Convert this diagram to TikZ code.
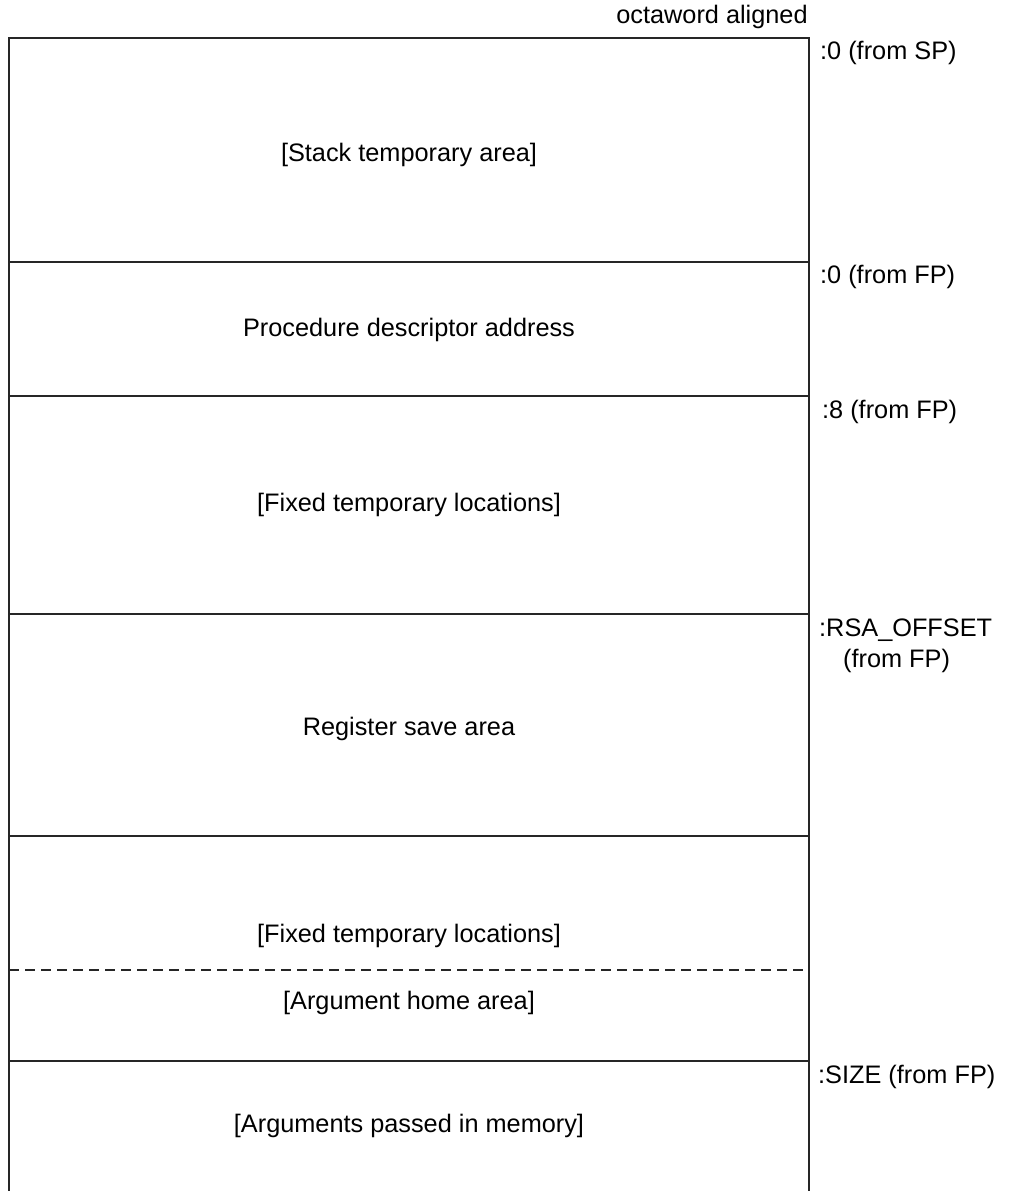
\documentclass[tikz,border=0pt]{standalone}
\usepackage{fontspec}
\setmainfont{Liberation Sans}
\begin{document}
\begin{tikzpicture}[x=1pt,y=-1pt,
  frame/.style={line width=2.8pt,draw=black!85},
  sep/.style={line width=2.5pt,draw=black!85},
  dsep/.style={line width=2.3pt,draw=black!85,dash pattern=on 10pt off 6pt},
  lbl/.style={inner sep=0pt,font=\fontsize{25.3}{30}\selectfont},
  side/.style={lbl,anchor=west}]
\useasboundingbox (0,0) rectangle (1011,1191);
% frame
\draw[frame] (9,1191) -- (9,38) -- (809,38) -- (809,1191);
% separators
\draw[sep] (9,262) -- (809,262);
\draw[sep] (9,396) -- (809,396);
\draw[sep] (9,614) -- (809,614);
\draw[sep] (9,836) -- (809,836);
\draw[dsep] (9,970) -- (809,970);
\draw[sep] (9,1061) -- (809,1061);
% box labels
\node[lbl] (stk) at (409,155) {[Stack temporary area]};
\node[lbl] (pda) at (409,330) {Procedure descriptor address};
\node[lbl] (ftl1) at (409,505) {[Fixed temporary locations]};
\node[lbl] (rsa) at (409,729) {Register save area};
\node[lbl] (ftl2) at (409,936) {[Fixed temporary locations]};
\node[lbl] (aha) at (409,1003) {[Argument home area]};
\node[lbl] (apm) at (409,1126) {[Arguments passed in memory]};
% side labels
\node[lbl] (oct) at (712,17) {octaword aligned};
\node[side] (sp0) at (820,53) {:0 (from SP)};
\node[side] (fp0) at (820,277) {:0 (from FP)};
\node[side] (fp8) at (822,412) {:8 (from FP)};
\node[side] (rsao) at (819,630) {:RSA\_OFFSET};
\node[side] (rsafp) at (843,661) {(from FP)};
\node[side] (size) at (818,1077) {:SIZE (from FP)};
\end{tikzpicture}
\end{document}
